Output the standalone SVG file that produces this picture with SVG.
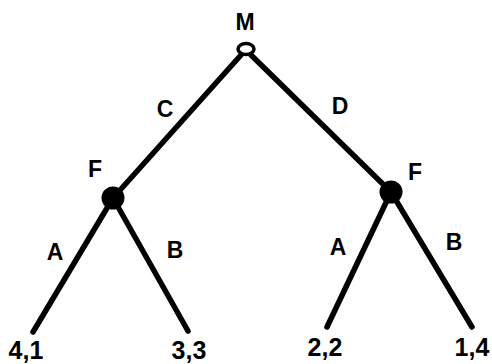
<svg xmlns="http://www.w3.org/2000/svg" width="492" height="364" viewBox="0 0 492 364">
<style>
.t{font-family:"Liberation Sans",Arial,sans-serif;font-weight:bold;font-size:23px;fill:#000;text-anchor:middle}
.p{font-size:25px}
.e{stroke:#000;stroke-width:5.5;stroke-linecap:round;fill:none}
</style>
<rect width="492" height="364" fill="#fff"/>
<g id="connectors">
<line class="e" x1="241" y1="55" x2="113" y2="198"/>
<line class="e" x1="251" y1="55" x2="391" y2="192"/>
<line class="e" x1="113" y1="198" x2="33" y2="332"/>
<line class="e" x1="113" y1="198" x2="188" y2="331"/>
<line class="e" x1="391" y1="192" x2="327" y2="327"/>
<line class="e" x1="391" y1="192" x2="472" y2="327"/>
<text class="t" x="165" y="117">C</text>
<text class="t" x="340" y="114">D</text>
<text class="t" x="55" y="260">A</text>
<text class="t" x="175" y="258">B</text>
<text class="t" x="338" y="255">A</text>
<text class="t" x="454" y="250">B</text>
</g>
<g id="nodeM">
<ellipse cx="246" cy="49" rx="8" ry="5.5" fill="#fff" stroke="#000" stroke-width="3.5"/>
<text class="t" x="245" y="30">M</text>
</g>
<g id="nodeF1">
<circle cx="113" cy="198" r="11.5" fill="#000"/>
<text class="t" x="95" y="177">F</text>
</g>
<g id="nodeF2">
<circle cx="391" cy="192" r="11.5" fill="#000"/>
<text class="t" x="415" y="180">F</text>
</g>
<g id="leaf1"><text class="t p" x="26" y="359">4,1</text></g>
<g id="leaf2"><text class="t p" x="189" y="359">3,3</text></g>
<g id="leaf3"><text class="t p" x="325" y="356">2,2</text></g>
<g id="leaf4"><text class="t p" x="472" y="356">1,4</text></g>
</svg>
